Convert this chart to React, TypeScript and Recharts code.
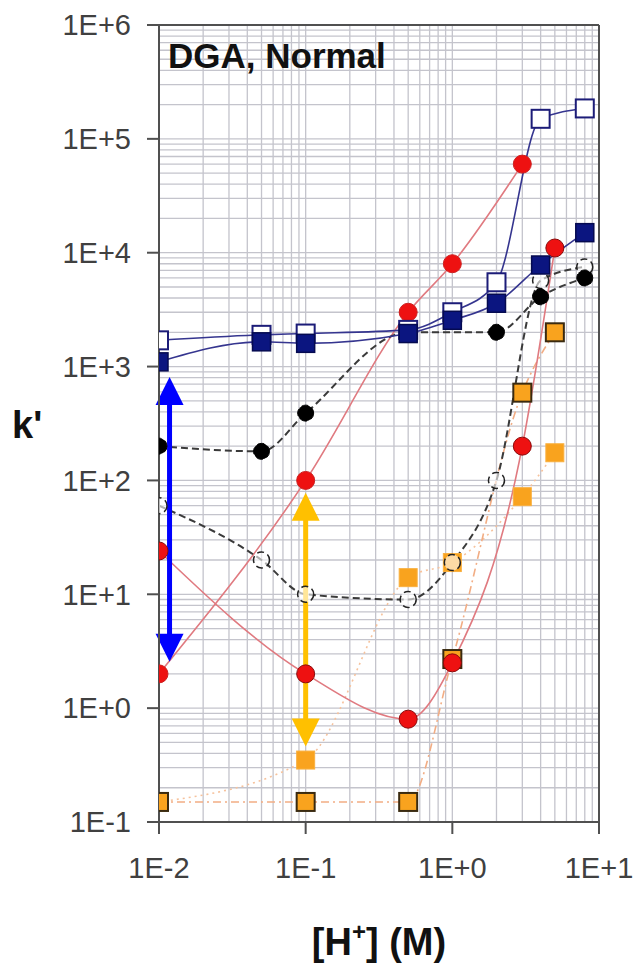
import { LineChart, Line, XAxis, YAxis, ReferenceLine } from "recharts";

const FONT = "'Liberation Sans', Arial, sans-serif";

// axis decades and minor steps (log grid)
const xDecades = [0.01, 0.1, 1, 10];
const yDecades = [0.1, 1, 10, 100, 1e3, 1e4, 1e5, 1e6];
const minorSteps = [2, 3, 4, 5, 6, 7, 8, 9];

// series values
const openSquareX = [0.01, 0.05, 0.1, 0.5, 1, 2, 4, 8];
const openSquareY = [1700, 1900, 1950, 2100, 3000, 5500, 150000, 185000];

const filledSquareX = [0.01, 0.05, 0.1, 0.5, 1, 2, 4, 8];
const filledSquareY = [1100, 1650, 1600, 1950, 2550, 3600, 7800, 15000];

const redRisingX = [0.01, 0.1, 0.5, 1, 3];
const redRisingY = [2, 100, 3000, 8000, 60000];

const redDipX = [0.01, 0.1, 0.5, 1, 3, 5];
const redDipY = [24, 2, 0.8, 2.5, 200, 11000];

const blackFilledX = [0.01, 0.05, 0.1, 0.5, 2, 4, 8];
const blackFilledY = [200, 180, 390, 2000, 2000, 4100, 6000];

const blackOpenX = [0.01, 0.05, 0.1, 0.5, 1, 2, 4, 8];
const blackOpenY = [60, 20, 10, 9, 19, 100, 5700, 7500];

const orangeOutlinedX = [0.01, 0.1, 0.5, 1, 3, 5];
const orangeOutlinedY = [0.15, 0.15, 0.15, 2.7, 590, 2000];

const orangePlainX = [0.01, 0.1, 0.5, 1, 3, 5];
const orangePlainY = [0.15, 0.35, 14, 19, 72, 175];

// double arrows: [x, top, bottom]
const blueArrow = [0.0118, 810, 2.55];
const yellowArrow = [0.1, 78, 0.46];

const zip = (xs: number[], ys: number[]) => xs.map((x, i) => ({ x, y: ys[i] }));

const withMinors = (decades: number[]) => {
  const out: number[] = [];
  decades.forEach((d, i) => {
    out.push(d);
    if (i < decades.length - 1) minorSteps.forEach((m) => out.push(Number((m * d).toPrecision(3))));
  });
  return out;
};

const expLabel = (v: number) => {
  const e = Math.round(Math.log10(v));
  return `1E${e >= 0 ? "+" : "-"}${Math.abs(e)}`;
};

const squareDot = (fill: string, stroke: string, size = 18, sw = 1.5) => (p: any) => (
  <rect
    key={`sq-${p.index}`}
    x={p.cx - size / 2}
    y={p.cy - size / 2}
    width={size}
    height={size}
    fill={fill}
    stroke={stroke}
    strokeWidth={sw}
  />
);

const arrowShape = (color: string) => (p: any) => {
  const { x1, y1, y2 } = p;
  const top = Math.min(y1, y2);
  const bottom = Math.max(y1, y2);
  const head = 28;
  const half = 14;
  return (
    <g>
      <line x1={x1} y1={top + head - 2} x2={x1} y2={bottom - head + 2} stroke={color} strokeWidth={5} />
      <polygon points={`${x1},${top} ${x1 - half},${top + head} ${x1 + half},${top + head}`} fill={color} />
      <polygon points={`${x1},${bottom} ${x1 - half},${bottom - head} ${x1 + half},${bottom - head}`} fill={color} />
    </g>
  );
};

export default function App() {
  const gridColor = "#c4c4cc";
  const axisColor = "#505050";
  return (
    <div style={{ position: "absolute", left: 0, top: 0, width: 636, height: 963, background: "#fff" }}>
      <LineChart width={636} height={963} margin={{ top: 25, right: 37, left: 0, bottom: 0 }}>
        <XAxis
          type="number"
          dataKey="x"
          scale="log"
          domain={[0.01, 10]}
          ticks={xDecades}
          interval={0}
          allowDataOverflow
          tickFormatter={expLabel}
          height={141}
          tickSize={12}
          tickMargin={23}
          stroke={axisColor}
          strokeWidth={2}
          tick={{ fill: "#404040", fontSize: 29, fontFamily: FONT }}
          label={{
            content: (props: any) => {
              const vb = props.viewBox;
              return (
                <text
                  x={vb.x + vb.width / 2}
                  y={vb.y + 133}
                  textAnchor="middle"
                  fontFamily={FONT}
                  fontWeight="bold"
                  fontSize={38}
                  fill="#111"
                >
                  <tspan>[H</tspan>
                  <tspan dy={-15} fontSize={24}>+</tspan>
                  <tspan dy={15}>] (M)</tspan>
                </text>
              );
            },
          }}
        />
        <YAxis
          type="number"
          dataKey="y"
          scale="log"
          domain={[0.1, 1e6]}
          ticks={yDecades}
          interval={0}
          allowDataOverflow
          tickFormatter={expLabel}
          width={159}
          tickSize={12}
          tickMargin={16}
          stroke={axisColor}
          strokeWidth={2}
          tick={{ fill: "#404040", fontSize: 29, fontFamily: FONT }}
          label={{
            content: (props: any) => {
              const vb = props.viewBox;
              return (
                <text x={12} y={vb.y + vb.height / 2 + 14} fontFamily={FONT} fontWeight="bold" fontSize={38} fill="#111">
                  k'
                </text>
              );
            },
          }}
        />

        {withMinors(xDecades).map((v) => (
          <ReferenceLine key={`gx-${v}`} x={v} stroke={gridColor} strokeWidth={1.3} />
        ))}
        {withMinors(yDecades).map((v) => (
          <ReferenceLine key={`gy-${v}`} y={v} stroke={gridColor} strokeWidth={1.3} />
        ))}
        <ReferenceLine x={10} stroke={axisColor} strokeWidth={2} />
        <ReferenceLine y={1e6} stroke={axisColor} strokeWidth={2} />

        <Line
          data={zip(orangePlainX, orangePlainY)}
          dataKey="y"
          type="monotone"
          stroke="#f6c29c"
          strokeWidth={1.6}
          strokeDasharray="2 4"
          dot={squareDot("#f9a31e", "#f9b040", 18, 1)}
          isAnimationActive={false}
        />
        <Line
          data={zip(orangeOutlinedX, orangeOutlinedY)}
          dataKey="y"
          type="monotone"
          stroke="#f2ad84"
          strokeWidth={1.6}
          strokeDasharray="8 4 2 4"
          dot={squareDot("#f9a31e", "#3a2a10", 18, 2)}
          isAnimationActive={false}
        />
        <Line
          data={zip(redDipX, redDipY)}
          dataKey="y"
          type="monotone"
          stroke="#e07a80"
          strokeWidth={1.6}
          dot={{ r: 9, fill: "#ee1111", stroke: "#8a0a0a", strokeWidth: 1 }}
          isAnimationActive={false}
        />
        <Line
          data={zip(redRisingX, redRisingY)}
          dataKey="y"
          type="monotone"
          stroke="#e07a80"
          strokeWidth={1.6}
          dot={{ r: 9, fill: "#ee1111", stroke: "#cc2020", strokeWidth: 1 }}
          isAnimationActive={false}
        />
        <Line
          data={zip(blackOpenX, blackOpenY)}
          dataKey="y"
          type="monotone"
          stroke="#3a3a3a"
          strokeWidth={2}
          strokeDasharray="7 4"
          dot={{ r: 8, fill: "#fff", fillOpacity: 0.6, stroke: "#222", strokeWidth: 1.5 }}
          isAnimationActive={false}
        />
        <Line
          data={zip(blackFilledX, blackFilledY)}
          dataKey="y"
          type="monotone"
          stroke="#3a3a3a"
          strokeWidth={2}
          strokeDasharray="7 4"
          dot={{ r: 8, fill: "#000", stroke: "#000", strokeWidth: 1 }}
          isAnimationActive={false}
        />
        <Line
          data={zip(openSquareX, openSquareY)}
          dataKey="y"
          type="monotone"
          stroke="#35358f"
          strokeWidth={1.6}
          dot={squareDot("#fff", "#1c1c78", 18, 2)}
          isAnimationActive={false}
        />
        <Line
          data={zip(filledSquareX, filledSquareY)}
          dataKey="y"
          type="monotone"
          stroke="#35358f"
          strokeWidth={1.6}
          dot={squareDot("#0b1580", "#050a50", 18, 1.5)}
          isAnimationActive={false}
        />

        <ReferenceLine
          segment={[
            { x: blueArrow[0], y: blueArrow[1] },
            { x: blueArrow[0], y: blueArrow[2] },
          ]}
          shape={arrowShape("#0000ff")}
        />
        <ReferenceLine
          segment={[
            { x: yellowArrow[0], y: yellowArrow[1] },
            { x: yellowArrow[0], y: yellowArrow[2] },
          ]}
          shape={arrowShape("#ffc000")}
        />
      </LineChart>
      <div
        style={{
          position: "absolute",
          left: 168,
          top: 38,
          fontFamily: FONT,
          fontWeight: "bold",
          fontSize: 35,
          lineHeight: 1,
          color: "#111",
          whiteSpace: "nowrap",
        }}
      >
        DGA, Normal
      </div>
    </div>
  );
}
